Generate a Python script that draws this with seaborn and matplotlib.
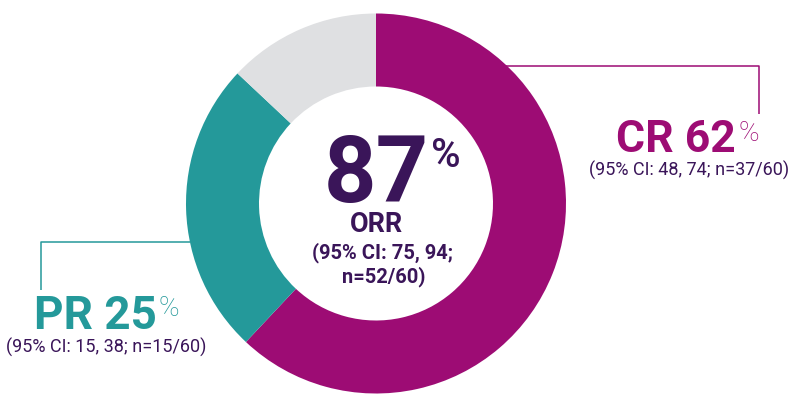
import matplotlib
matplotlib.use("Agg")
import matplotlib.pyplot as plt
import seaborn as sns

# Response data (share of patients, %)
categories = ["CR", "PR", "No response"]
shares = [62, 25, 13]
colors = ["#9D0C74", "#24999A", "#DFE0E2"]

ci_labels = ["(95% CI: 48, 74; n=37/60)", "(95% CI: 15, 38; n=15/60)"]
orr_value = "87"
orr_ci = ["(95% CI: 75, 94;", "n=52/60)"]

text_dark = "#3A1559"

sns.set_theme(style="white")
plt.rcParams["font.family"] = ["Roboto", "DejaVu Sans"]

fig = plt.figure(figsize=(8.07, 4.05), dpi=100)
ax = fig.add_axes([0, 0, 1, 1])

# donut; y axis is flipped afterwards so angles run the other way
ax.pie(shares, colors=colors, startangle=-90, counterclock=True,
       radius=190, center=(376, 203.5),
       wedgeprops=dict(width=73, linewidth=0))
ax.set_xlim(0, 807)
ax.set_ylim(405, 0)
ax.set_aspect("equal")
ax.axis("off")

# leader lines
ax.plot([503, 759, 759], [66, 66, 114], color=colors[0], lw=1.1, solid_capstyle="butt")
ax.plot([190, 41, 41], [242, 242, 290], color=colors[1], lw=1.1, solid_capstyle="butt")

# centre label
ax.text(429, 202, orr_value, ha="right", va="baseline", fontsize=66,
        fontweight="bold", color=text_dark)
ax.text(431, 137, "%", ha="left", va="top", fontsize=29,
        fontweight="medium", color=text_dark)
ax.text(376, 232, "ORR", ha="center", va="baseline", fontsize=19.5,
        fontweight="bold", color=text_dark)
ax.text(383, 258, orr_ci[0], ha="center", va="baseline", fontsize=14.5,
        fontweight="semibold", color=text_dark)
ax.text(384, 282, orr_ci[1], ha="center", va="baseline", fontsize=14.5,
        fontweight="semibold", color=text_dark)

# CR label
ax.text(736, 152, f"{categories[0]} {shares[0]}", ha="right", va="baseline",
        fontsize=32, fontweight="bold", color=colors[0])
ax.text(738, 120, "%", ha="left", va="top", fontsize=20, fontweight="light",
        color=colors[0])
ax.text(689, 176, ci_labels[0], ha="center", va="baseline", fontsize=13,
        color=text_dark)

# PR label
ax.text(157, 329, f"{categories[1]} {shares[1]}", ha="right", va="baseline",
        fontsize=33, fontweight="bold", color=colors[1])
ax.text(159, 295, "%", ha="left", va="top", fontsize=20, fontweight="light",
        color=colors[1])
ax.text(106, 353, ci_labels[1], ha="center", va="baseline", fontsize=13,
        color=text_dark)

fig.savefig("out.png", dpi=100)
